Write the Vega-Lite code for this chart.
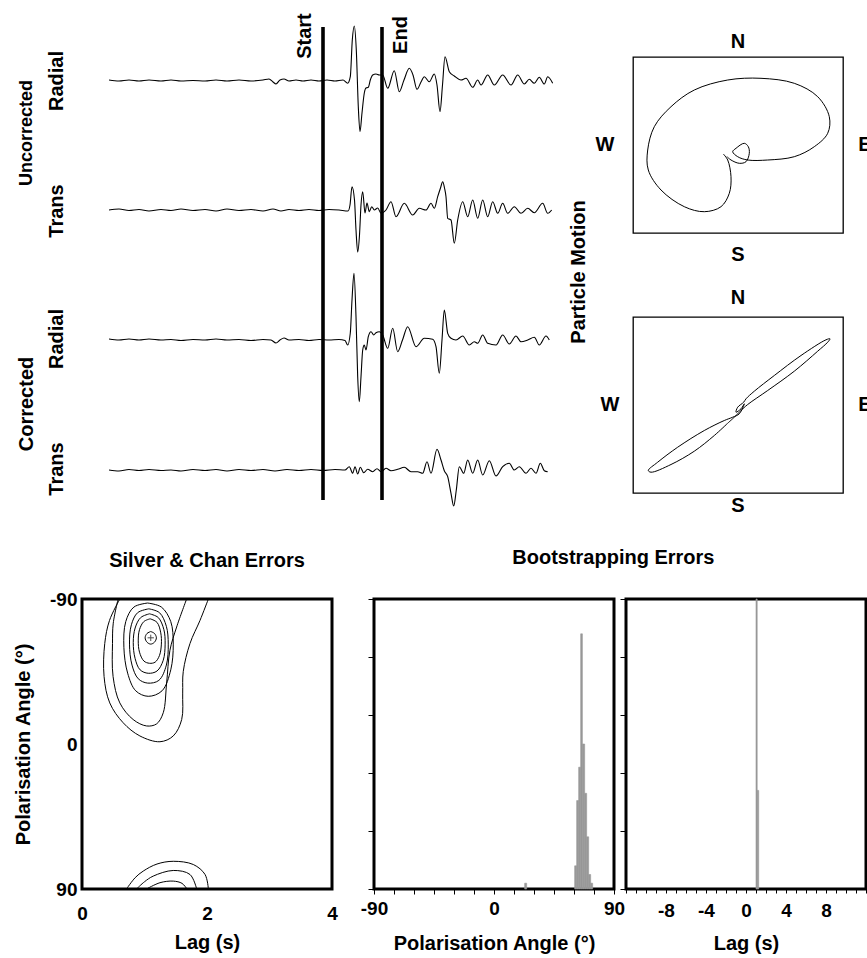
{
"$schema": "https://vega.github.io/schema/vega-lite/v6.json",
"padding": {"left": 12, "top": 13, "right": 0, "bottom": 0},
"bounds": "full",
"spacing": 31,
"datasets": {
"traces": [
{"trace":"UR","t":0,"y":420},{"trace":"UR","t":10,"y":419},{"trace":"UR","t":20,"y":420},{"trace":"UR","t":30,"y":419},{"trace":"UR","t":40,"y":420},{"trace":"UR","t":52,"y":419},{"trace":"UR","t":62,"y":420},{"trace":"UR","t":72,"y":419},{"trace":"UR","t":84,"y":419.5},{"trace":"UR","t":96,"y":419},{"trace":"UR","t":107,"y":420},{"trace":"UR","t":118,"y":419},{"trace":"UR","t":130,"y":420},{"trace":"UR","t":142,"y":419},{"trace":"UR","t":154,"y":420},{"trace":"UR","t":160,"y":421},{"trace":"UR","t":164,"y":418},{"trace":"UR","t":167,"y":416},{"trace":"UR","t":171,"y":420},{"trace":"UR","t":175,"y":421},{"trace":"UR","t":180,"y":419},{"trace":"UR","t":187,"y":420},{"trace":"UR","t":194,"y":419},{"trace":"UR","t":202,"y":420},{"trace":"UR","t":210,"y":419},{"trace":"UR","t":218,"y":420},{"trace":"UR","t":226,"y":419},{"trace":"UR","t":234,"y":420},{"trace":"UR","t":238.7,"y":416.7},{"trace":"UR","t":241.3,"y":423.3},{"trace":"UR","t":243.3,"y":460},{"trace":"UR","t":245.3,"y":474},{"trace":"UR","t":247.3,"y":450},{"trace":"UR","t":249.3,"y":393.3},{"trace":"UR","t":251,"y":368.3},{"trace":"UR","t":253,"y":387},{"trace":"UR","t":255.3,"y":407},{"trace":"UR","t":257,"y":412},{"trace":"UR","t":259.3,"y":412.7},{"trace":"UR","t":261.3,"y":420},{"trace":"UR","t":263.7,"y":425},{"trace":"UR","t":267,"y":426},{"trace":"UR","t":270.3,"y":425},{"trace":"UR","t":273.7,"y":425},{"trace":"UR","t":278.7,"y":411.7},{"trace":"UR","t":285.3,"y":429.3},{"trace":"UR","t":290.3,"y":408.3},{"trace":"UR","t":295,"y":420},{"trace":"UR","t":300.3,"y":431.7},{"trace":"UR","t":304,"y":425},{"trace":"UR","t":308,"y":410.7},{"trace":"UR","t":312,"y":418},{"trace":"UR","t":315.3,"y":423.3},{"trace":"UR","t":320.3,"y":418.3},{"trace":"UR","t":325.3,"y":426},{"trace":"UR","t":328,"y":415},{"trace":"UR","t":331,"y":388.3},{"trace":"UR","t":333.5,"y":415},{"trace":"UR","t":336,"y":443.3},{"trace":"UR","t":340.3,"y":428.3},{"trace":"UR","t":345.3,"y":424},{"trace":"UR","t":352,"y":420},{"trace":"UR","t":357,"y":421.7},{"trace":"UR","t":363.7,"y":412.7},{"trace":"UR","t":368.7,"y":420},{"trace":"UR","t":372,"y":415},{"trace":"UR","t":378.7,"y":425},{"trace":"UR","t":385.3,"y":415},{"trace":"UR","t":393.7,"y":425},{"trace":"UR","t":402,"y":415},{"trace":"UR","t":408.7,"y":425},{"trace":"UR","t":415.3,"y":416},{"trace":"UR","t":420.3,"y":420.7},{"trace":"UR","t":425.3,"y":416.7},{"trace":"UR","t":430.3,"y":422.7},{"trace":"UR","t":435.3,"y":416},{"trace":"UR","t":438.7,"y":423.3},{"trace":"UR","t":443.7,"y":416.7},
{"trace":"UT","t":0,"y":290},{"trace":"UT","t":10,"y":291},{"trace":"UT","t":20,"y":289.5},{"trace":"UT","t":30,"y":290.5},{"trace":"UT","t":40,"y":289},{"trace":"UT","t":52,"y":290.5},{"trace":"UT","t":62,"y":289.5},{"trace":"UT","t":72,"y":291},{"trace":"UT","t":84,"y":289.5},{"trace":"UT","t":96,"y":290.5},{"trace":"UT","t":107,"y":289},{"trace":"UT","t":118,"y":291},{"trace":"UT","t":130,"y":289.5},{"trace":"UT","t":142,"y":290.5},{"trace":"UT","t":154,"y":289},{"trace":"UT","t":164,"y":291},{"trace":"UT","t":172,"y":289},{"trace":"UT","t":180,"y":290.5},{"trace":"UT","t":190,"y":289.5},{"trace":"UT","t":200,"y":290.5},{"trace":"UT","t":210,"y":289.5},{"trace":"UT","t":220,"y":290.5},{"trace":"UT","t":230,"y":290},{"trace":"UT","t":239,"y":289},{"trace":"UT","t":241,"y":295},{"trace":"UT","t":243,"y":313.3},{"trace":"UT","t":245.5,"y":300},{"trace":"UT","t":247,"y":270},{"trace":"UT","t":248.7,"y":248},{"trace":"UT","t":250.5,"y":265},{"trace":"UT","t":252,"y":295},{"trace":"UT","t":253.7,"y":308.3},{"trace":"UT","t":256,"y":287},{"trace":"UT","t":258,"y":297},{"trace":"UT","t":260.3,"y":288.3},{"trace":"UT","t":262.7,"y":293.3},{"trace":"UT","t":265.3,"y":290},{"trace":"UT","t":268.7,"y":292},{"trace":"UT","t":272,"y":286.7},{"trace":"UT","t":277,"y":290},{"trace":"UT","t":282,"y":298.3},{"trace":"UT","t":287,"y":283.3},{"trace":"UT","t":295.3,"y":296.7},{"trace":"UT","t":303.7,"y":285},{"trace":"UT","t":310.3,"y":291.7},{"trace":"UT","t":317,"y":290},{"trace":"UT","t":322,"y":296.7},{"trace":"UT","t":325.3,"y":291.7},{"trace":"UT","t":328.7,"y":303.3},{"trace":"UT","t":331.5,"y":312},{"trace":"UT","t":333.7,"y":318.3},{"trace":"UT","t":335.5,"y":312},{"trace":"UT","t":337,"y":303.3},{"trace":"UT","t":338.7,"y":281.7},{"trace":"UT","t":342,"y":280},{"trace":"UT","t":345.3,"y":256.7},{"trace":"UT","t":348.7,"y":280},{"trace":"UT","t":353.7,"y":298.3},{"trace":"UT","t":358.7,"y":283.3},{"trace":"UT","t":363.7,"y":300},{"trace":"UT","t":368.7,"y":281.7},{"trace":"UT","t":373.7,"y":300},{"trace":"UT","t":378.7,"y":283.3},{"trace":"UT","t":383.7,"y":298.3},{"trace":"UT","t":388.7,"y":286.7},{"trace":"UT","t":393.7,"y":296.7},{"trace":"UT","t":398.7,"y":286.7},{"trace":"UT","t":405.3,"y":293.3},{"trace":"UT","t":412,"y":286.7},{"trace":"UT","t":418.7,"y":291.7},{"trace":"UT","t":425.3,"y":287.3},{"trace":"UT","t":433.7,"y":296.7},{"trace":"UT","t":438.7,"y":286.7},{"trace":"UT","t":442.7,"y":290},
{"trace":"CR","t":0,"y":161},{"trace":"CR","t":10,"y":160},{"trace":"CR","t":20,"y":161},{"trace":"CR","t":30,"y":160},{"trace":"CR","t":40,"y":161},{"trace":"CR","t":52,"y":160},{"trace":"CR","t":62,"y":160.5},{"trace":"CR","t":72,"y":159.5},{"trace":"CR","t":84,"y":160.5},{"trace":"CR","t":96,"y":160},{"trace":"CR","t":107,"y":161},{"trace":"CR","t":118,"y":160},{"trace":"CR","t":130,"y":160.5},{"trace":"CR","t":142,"y":159.5},{"trace":"CR","t":154,"y":160.5},{"trace":"CR","t":162,"y":160},{"trace":"CR","t":167,"y":157},{"trace":"CR","t":171,"y":160},{"trace":"CR","t":175,"y":162},{"trace":"CR","t":180,"y":160},{"trace":"CR","t":190,"y":160.5},{"trace":"CR","t":200,"y":159.5},{"trace":"CR","t":210,"y":160.5},{"trace":"CR","t":220,"y":160},{"trace":"CR","t":230,"y":160.5},{"trace":"CR","t":236,"y":159.5},{"trace":"CR","t":238.7,"y":155},{"trace":"CR","t":241.3,"y":167},{"trace":"CR","t":243,"y":200},{"trace":"CR","t":245,"y":226.7},{"trace":"CR","t":247,"y":183.3},{"trace":"CR","t":248.7,"y":123.3},{"trace":"CR","t":250.3,"y":98.3},{"trace":"CR","t":252,"y":123.3},{"trace":"CR","t":253.7,"y":150},{"trace":"CR","t":255.3,"y":155},{"trace":"CR","t":257,"y":150},{"trace":"CR","t":259.3,"y":163.3},{"trace":"CR","t":262,"y":168.3},{"trace":"CR","t":264.7,"y":165},{"trace":"CR","t":267,"y":167.3},{"trace":"CR","t":270.3,"y":168.3},{"trace":"CR","t":273.7,"y":165},{"trace":"CR","t":278.7,"y":151.7},{"trace":"CR","t":283.7,"y":171.7},{"trace":"CR","t":288.7,"y":148.3},{"trace":"CR","t":293.5,"y":160},{"trace":"CR","t":298.7,"y":173.3},{"trace":"CR","t":307,"y":153.3},{"trace":"CR","t":315.3,"y":161.7},{"trace":"CR","t":323.7,"y":160.7},{"trace":"CR","t":327,"y":153.3},{"trace":"CR","t":330.3,"y":126.7},{"trace":"CR","t":333,"y":160},{"trace":"CR","t":335.3,"y":190},{"trace":"CR","t":338.7,"y":166.7},{"trace":"CR","t":342,"y":161.7},{"trace":"CR","t":347,"y":160},{"trace":"CR","t":353.7,"y":164},{"trace":"CR","t":360.3,"y":155},{"trace":"CR","t":365.3,"y":158.3},{"trace":"CR","t":368.7,"y":156.7},{"trace":"CR","t":373.7,"y":165},{"trace":"CR","t":378.7,"y":156.7},{"trace":"CR","t":387,"y":155},{"trace":"CR","t":393.7,"y":165},{"trace":"CR","t":400.3,"y":156},{"trace":"CR","t":407,"y":164},{"trace":"CR","t":412,"y":158.3},{"trace":"CR","t":418.7,"y":160},{"trace":"CR","t":425.3,"y":162.7},{"trace":"CR","t":430.3,"y":155},{"trace":"CR","t":437,"y":164},{"trace":"CR","t":440.3,"y":160},
{"trace":"CT","t":0,"y":30},{"trace":"CT","t":10,"y":29},{"trace":"CT","t":20,"y":30.5},{"trace":"CT","t":30,"y":29.5},{"trace":"CT","t":40,"y":30.5},{"trace":"CT","t":52,"y":29.5},{"trace":"CT","t":62,"y":30},{"trace":"CT","t":72,"y":29},{"trace":"CT","t":84,"y":30.5},{"trace":"CT","t":96,"y":29.5},{"trace":"CT","t":107,"y":30.5},{"trace":"CT","t":118,"y":29},{"trace":"CT","t":130,"y":30.5},{"trace":"CT","t":142,"y":29.5},{"trace":"CT","t":154,"y":30.5},{"trace":"CT","t":166,"y":29},{"trace":"CT","t":178,"y":30.5},{"trace":"CT","t":190,"y":29.5},{"trace":"CT","t":202,"y":30.5},{"trace":"CT","t":214,"y":29.5},{"trace":"CT","t":226,"y":30.5},{"trace":"CT","t":236,"y":30},{"trace":"CT","t":240.3,"y":33.3},{"trace":"CT","t":243.7,"y":26.7},{"trace":"CT","t":246,"y":33.3},{"trace":"CT","t":248.7,"y":26},{"trace":"CT","t":251.3,"y":32.7},{"trace":"CT","t":254.7,"y":27.3},{"trace":"CT","t":258.7,"y":30.7},{"trace":"CT","t":263.7,"y":28.3},{"trace":"CT","t":268,"y":31.3},{"trace":"CT","t":272,"y":28.3},{"trace":"CT","t":277,"y":31.7},{"trace":"CT","t":282,"y":29.3},{"trace":"CT","t":288.7,"y":30.7},{"trace":"CT","t":295.3,"y":32.7},{"trace":"CT","t":302,"y":28.3},{"trace":"CT","t":308.7,"y":28.3},{"trace":"CT","t":313.7,"y":26.7},{"trace":"CT","t":318,"y":38.3},{"trace":"CT","t":322,"y":26.7},{"trace":"CT","t":328,"y":50.7},{"trace":"CT","t":332,"y":40},{"trace":"CT","t":335.3,"y":29.3},{"trace":"CT","t":338.7,"y":23.3},{"trace":"CT","t":342,"y":6.7},{"trace":"CT","t":344.7,"y":-6},{"trace":"CT","t":347.3,"y":10},{"trace":"CT","t":350.3,"y":33.3},{"trace":"CT","t":354.7,"y":26.7},{"trace":"CT","t":358.7,"y":40},{"trace":"CT","t":363.7,"y":26.7},{"trace":"CT","t":368.7,"y":40},{"trace":"CT","t":373.7,"y":25},{"trace":"CT","t":380.3,"y":39.3},{"trace":"CT","t":387,"y":24},{"trace":"CT","t":393.7,"y":33.3},{"trace":"CT","t":400.3,"y":36.7},{"trace":"CT","t":405.3,"y":30},{"trace":"CT","t":410.3,"y":33.3},{"trace":"CT","t":417,"y":26.7},{"trace":"CT","t":422,"y":31.7},{"trace":"CT","t":427,"y":26.7},{"trace":"CT","t":431.3,"y":36.7},{"trace":"CT","t":435.3,"y":29.3},{"trace":"CT","t":438.7,"y":28.3}
],
"window": [{"label":"Start","t":214},{"label":"End","t":273}],
"pm1": [
{"i":1,"e":-14.7,"n":-9},{"i":2,"e":-10.3,"n":-15},{"i":3,"e":-7,"n":-31.7},{"i":4,"e":-8.7,"n":-48.3},{"i":5,"e":-17,"n":-61.7},{"i":6,"e":-33.7,"n":-66.7},{"i":7,"e":-53.7,"n":-61.7},{"i":8,"e":-77,"n":-45},{"i":9,"e":-89.7,"n":-25},{"i":10,"e":-90.3,"n":-5},{"i":11,"e":-83.7,"n":18.3},{"i":12,"e":-67,"n":38.3},{"i":13,"e":-43.7,"n":55},{"i":14,"e":-10.3,"n":65},{"i":15,"e":23,"n":66.7},{"i":16,"e":56.3,"n":61.7},{"i":17,"e":79.7,"n":48.3},{"i":18,"e":91.3,"n":28.3},{"i":19,"e":89.7,"n":11.7},{"i":20,"e":76.3,"n":-1.7},{"i":21,"e":56.3,"n":-11.7},{"i":22,"e":29.7,"n":-15},{"i":23,"e":9.7,"n":-15},{"i":24,"e":-0.3,"n":-11.7},{"i":25,"e":-5.3,"n":-6.7},{"i":26,"e":-2,"n":-3.3},{"i":27,"e":6.3,"n":1.7},{"i":28,"e":10.3,"n":-1.7},{"i":29,"e":11.3,"n":-8.3},{"i":30,"e":8,"n":-16.7},{"i":31,"e":1.3,"n":-18.3},{"i":32,"e":-7,"n":-15},{"i":33,"e":-11,"n":-11.7}
],
"pm2": [
{"i":1,"e":-10.3,"n":-18.2},{"i":2,"e":-3.7,"n":-12.2},{"i":3,"e":3,"n":-5.5},{"i":4,"e":9.7,"n":0.5},{"i":5,"e":29.7,"n":14.5},{"i":6,"e":56.3,"n":33.8},{"i":7,"e":79.7,"n":53.8},{"i":8,"e":89.7,"n":62.8},{"i":9,"e":92,"n":66.2},{"i":10,"e":88,"n":65.2},{"i":11,"e":63,"n":49.5},{"i":12,"e":36.3,"n":29.5},{"i":13,"e":16.3,"n":13.8},{"i":14,"e":8,"n":6.2},{"i":15,"e":5.7,"n":2.8},{"i":16,"e":-0.3,"n":-2.2},{"i":17,"e":-2,"n":-7.2},{"i":18,"e":3,"n":-3.8},{"i":19,"e":6.3,"n":1.2},{"i":20,"e":1.3,"n":-8.8},{"i":21,"e":-5.3,"n":-12.2},{"i":22,"e":-13.7,"n":-15.5},{"i":23,"e":-33.7,"n":-25.5},{"i":24,"e":-60.3,"n":-42.2},{"i":25,"e":-80.3,"n":-57.2},{"i":26,"e":-89.7,"n":-65.5},{"i":27,"e":-87,"n":-67.2},{"i":28,"e":-67,"n":-59.5},{"i":29,"e":-43.7,"n":-46.2},{"i":30,"e":-23.7,"n":-30.5},{"i":31,"e":-10.3,"n":-18.2}
],
"contours": [
{"c":"r1","i":0,"lag":1.10,"ang":-69.8},{"c":"r1","i":1,"lag":1.16,"ang":-68.6},{"c":"r1","i":2,"lag":1.19,"ang":-65.9},{"c":"r1","i":3,"lag":1.16,"ang":-63.2},{"c":"r1","i":4,"lag":1.10,"ang":-62.0},{"c":"r1","i":5,"lag":1.04,"ang":-63.2},{"c":"r1","i":6,"lag":1.01,"ang":-65.9},{"c":"r1","i":7,"lag":1.04,"ang":-68.6},{"c":"r1","i":8,"lag":1.10,"ang":-69.8},
{"c":"r2","i":0,"lag":1.09,"ang":-77.7},{"c":"r2","i":1,"lag":1.20,"ang":-75.5},{"c":"r2","i":2,"lag":1.26,"ang":-69},{"c":"r2","i":3,"lag":1.27,"ang":-62},{"c":"r2","i":4,"lag":1.24,"ang":-55},{"c":"r2","i":5,"lag":1.17,"ang":-50.8},{"c":"r2","i":6,"lag":1.08,"ang":-50.1},{"c":"r2","i":7,"lag":0.99,"ang":-51.5},{"c":"r2","i":8,"lag":0.92,"ang":-57},{"c":"r2","i":9,"lag":0.90,"ang":-64},{"c":"r2","i":10,"lag":0.92,"ang":-71},{"c":"r2","i":11,"lag":0.99,"ang":-76},{"c":"r2","i":12,"lag":1.09,"ang":-77.7},
{"c":"r3","i":0,"lag":1.08,"ang":-80.8},{"c":"r3","i":1,"lag":1.22,"ang":-78.5},{"c":"r3","i":2,"lag":1.31,"ang":-71},{"c":"r3","i":3,"lag":1.33,"ang":-62},{"c":"r3","i":4,"lag":1.30,"ang":-52},{"c":"r3","i":5,"lag":1.20,"ang":-45.3},{"c":"r3","i":6,"lag":1.06,"ang":-43.9},{"c":"r3","i":7,"lag":0.93,"ang":-46},{"c":"r3","i":8,"lag":0.85,"ang":-53},{"c":"r3","i":9,"lag":0.82,"ang":-63},{"c":"r3","i":10,"lag":0.85,"ang":-72},{"c":"r3","i":11,"lag":0.94,"ang":-78.5},{"c":"r3","i":12,"lag":1.08,"ang":-80.8},
{"c":"r4","i":0,"lag":1.07,"ang":-83.9},{"c":"r4","i":1,"lag":1.24,"ang":-81.5},{"c":"r4","i":2,"lag":1.35,"ang":-73},{"c":"r4","i":3,"lag":1.38,"ang":-62},{"c":"r4","i":4,"lag":1.35,"ang":-49},{"c":"r4","i":5,"lag":1.23,"ang":-39.5},{"c":"r4","i":6,"lag":1.05,"ang":-37.8},{"c":"r4","i":7,"lag":0.90,"ang":-40.5},{"c":"r4","i":8,"lag":0.80,"ang":-49},{"c":"r4","i":9,"lag":0.76,"ang":-62},{"c":"r4","i":10,"lag":0.79,"ang":-74},{"c":"r4","i":11,"lag":0.89,"ang":-81.5},{"c":"r4","i":12,"lag":1.07,"ang":-83.9},
{"c":"r5","i":0,"lag":1.05,"ang":-87.5},{"c":"r5","i":1,"lag":1.27,"ang":-85},{"c":"r5","i":2,"lag":1.42,"ang":-76},{"c":"r5","i":3,"lag":1.46,"ang":-62},{"c":"r5","i":4,"lag":1.42,"ang":-46},{"c":"r5","i":5,"lag":1.28,"ang":-33},{"c":"r5","i":6,"lag":1.06,"ang":-29.6},{"c":"r5","i":7,"lag":0.86,"ang":-33},{"c":"r5","i":8,"lag":0.73,"ang":-44},{"c":"r5","i":9,"lag":0.67,"ang":-60},{"c":"r5","i":10,"lag":0.70,"ang":-76},{"c":"r5","i":11,"lag":0.83,"ang":-85},{"c":"r5","i":12,"lag":1.05,"ang":-87.5},
{"c":"r6","i":0,"lag":0.578,"ang":-90},{"c":"r6","i":1,"lag":0.50,"ang":-75},{"c":"r6","i":2,"lag":0.488,"ang":-62.4},{"c":"r6","i":3,"lag":0.497,"ang":-41.9},{"c":"r6","i":4,"lag":0.605,"ang":-25.5},{"c":"r6","i":5,"lag":0.818,"ang":-15.2},{"c":"r6","i":6,"lag":1.033,"ang":-11.2},{"c":"r6","i":7,"lag":1.194,"ang":-12.5},{"c":"r6","i":8,"lag":1.30,"ang":-19.4},{"c":"r6","i":9,"lag":1.354,"ang":-37.8},{"c":"r6","i":10,"lag":1.407,"ang":-58.2},{"c":"r6","i":11,"lag":1.514,"ang":-72.6},{"c":"r6","i":12,"lag":1.674,"ang":-90},
{"c":"r7","i":0,"lag":0.605,"ang":-90},{"c":"r7","i":1,"lag":0.44,"ang":-76.7},{"c":"r7","i":2,"lag":0.364,"ang":-62.4},{"c":"r7","i":3,"lag":0.353,"ang":-41.9},{"c":"r7","i":4,"lag":0.444,"ang":-25.5},{"c":"r7","i":5,"lag":0.658,"ang":-13.2},{"c":"r7","i":6,"lag":0.926,"ang":-5.0},{"c":"r7","i":7,"lag":1.247,"ang":-1.4},{"c":"r7","i":8,"lag":1.46,"ang":-5.0},{"c":"r7","i":9,"lag":1.595,"ang":-15.2},{"c":"r7","i":10,"lag":1.611,"ang":-31.6},{"c":"r7","i":11,"lag":1.62,"ang":-45},{"c":"r7","i":12,"lag":1.728,"ang":-62.4},{"c":"r7","i":13,"lag":1.888,"ang":-76.7},{"c":"r7","i":14,"lag":2.022,"ang":-90},
{"c":"b1","i":0,"lag":0.712,"ang":90},{"c":"b1","i":1,"lag":0.85,"ang":83},{"c":"b1","i":2,"lag":0.979,"ang":78.9},{"c":"b1","i":3,"lag":1.2,"ang":74.5},{"c":"b1","i":4,"lag":1.46,"ang":72.8},{"c":"b1","i":5,"lag":1.781,"ang":74.8},{"c":"b1","i":6,"lag":1.969,"ang":81},{"c":"b1","i":7,"lag":2.022,"ang":90},
{"c":"b2","i":0,"lag":0.873,"ang":90},{"c":"b2","i":1,"lag":1.0,"ang":85.5},{"c":"b2","i":2,"lag":1.139,"ang":82.0},{"c":"b2","i":3,"lag":1.46,"ang":78.5},{"c":"b2","i":4,"lag":1.728,"ang":81},{"c":"b2","i":5,"lag":1.835,"ang":90},
{"c":"b3","i":0,"lag":1.033,"ang":90},{"c":"b3","i":1,"lag":1.247,"ang":86.1},{"c":"b3","i":2,"lag":1.46,"ang":85.1},{"c":"b3","i":3,"lag":1.6,"ang":86.5},{"c":"b3","i":4,"lag":1.68,"ang":90}
],
"best": [{"lag":1.1,"ang":-65.9}],
"hpol": [
{"a0":23,"a1":24.5,"count":2},
{"a0":60.5,"a1":62,"count":8},{"a0":62,"a1":63.5,"count":30.5},{"a0":63.5,"a1":65,"count":42},{"a0":65,"a1":66.3,"count":88},{"a0":66.3,"a1":68,"count":50},{"a0":68,"a1":69.5,"count":33},{"a0":69.5,"a1":71,"count":18},{"a0":71,"a1":72.5,"count":5},{"a0":72.5,"a1":74,"count":2}
],
"hlag": [{"a0":1.0,"a1":1.12,"count":100},{"a0":1.12,"a1":1.27,"count":34}]
},
"vconcat": [
{
"hconcat": [
{
"width": 470, "height": 443,
"view": {"stroke": null},
"layer": [
{"data": {"name": "traces"},
 "mark": {"type": "line", "color": "black", "strokeWidth": 1.1, "interpolate": "monotone"},
 "encoding": {
  "x": {"field": "t", "type": "quantitative", "scale": {"domain": [-27, 443], "nice": false, "zero": false}, "axis": null},
  "y": {"field": "y", "type": "quantitative", "scale": {"domain": [0, 443], "nice": false, "zero": false}, "axis": null},
  "detail": {"field": "trace"}}},
{"data": {"name": "window"},
 "mark": {"type": "rule", "color": "black", "strokeWidth": 3.6},
 "encoding": {"x": {"field": "t", "type": "quantitative"}, "y": {"datum": 0}, "y2": {"datum": 473}}},
{"data": {"values": [{}]}, "mark": {"type": "text", "text": "Start", "angle": 270, "align": "center", "baseline": "middle"}, "encoding": {"x": {"datum": 196}, "y": {"datum": 464}}},
{"data": {"values": [{}]}, "mark": {"type": "text", "text": "End", "angle": 270, "align": "center", "baseline": "middle"}, "encoding": {"x": {"datum": 292}, "y": {"datum": 465}}},
{"data": {"values": [{}]}, "mark": {"type": "text", "text": "Radial", "angle": 270, "align": "center", "baseline": "middle"}, "encoding": {"x": {"datum": -52}, "y": {"datum": 419}}},
{"data": {"values": [{}]}, "mark": {"type": "text", "text": "Trans", "angle": 270, "align": "center", "baseline": "middle"}, "encoding": {"x": {"datum": -52}, "y": {"datum": 289}}},
{"data": {"values": [{}]}, "mark": {"type": "text", "text": "Uncorrected", "angle": 270, "align": "center", "baseline": "middle", "fontSize": 18}, "encoding": {"x": {"datum": -82}, "y": {"datum": 367}}},
{"data": {"values": [{}]}, "mark": {"type": "text", "text": "Radial", "angle": 270, "align": "center", "baseline": "middle"}, "encoding": {"x": {"datum": -52}, "y": {"datum": 161}}},
{"data": {"values": [{}]}, "mark": {"type": "text", "text": "Trans", "angle": 270, "align": "center", "baseline": "middle"}, "encoding": {"x": {"datum": -52}, "y": {"datum": 31}}},
{"data": {"values": [{}]}, "mark": {"type": "text", "text": "Corrected", "angle": 270, "align": "center", "baseline": "middle"}, "encoding": {"x": {"datum": -82}, "y": {"datum": 96}}}
]
},
{
"vconcat": [
{
"width": 210, "height": 176,
"view": {"stroke": "black", "strokeWidth": 1.3},
"layer": [
{"data": {"name": "pm1"},
 "mark": {"type": "line", "color": "black", "strokeWidth": 1, "interpolate": "catmull-rom"},
 "encoding": {
  "x": {"field": "e", "type": "quantitative", "scale": {"domain": [-105, 105], "nice": false, "zero": false}, "axis": null},
  "y": {"field": "n", "type": "quantitative", "scale": {"domain": [-88, 88], "nice": false, "zero": false}, "axis": null},
  "order": {"field": "i", "type": "quantitative"}}},
{"data": {"values": [{}]}, "mark": {"type": "text", "text": "N", "align": "center", "baseline": "middle"}, "encoding": {"x": {"datum": 0}, "y": {"datum": 103}}},
{"data": {"values": [{}]}, "mark": {"type": "text", "text": "S", "align": "center", "baseline": "middle"}, "encoding": {"x": {"datum": 0}, "y": {"datum": -110}}},
{"data": {"values": [{}]}, "mark": {"type": "text", "text": "W", "align": "center", "baseline": "middle"}, "encoding": {"x": {"datum": -133}, "y": {"datum": 0}}},
{"data": {"values": [{}]}, "mark": {"type": "text", "text": "E", "align": "center", "baseline": "middle"}, "encoding": {"x": {"datum": 127}, "y": {"datum": 0}}},
{"data": {"values": [{}]}, "mark": {"type": "text", "text": "Particle Motion", "angle": 270, "align": "center", "baseline": "middle"}, "encoding": {"x": {"datum": -159}, "y": {"datum": -127}}}
]
},
{
"width": 210, "height": 176,
"view": {"stroke": "black", "strokeWidth": 1.3},
"layer": [
{"data": {"name": "pm2"},
 "mark": {"type": "line", "color": "black", "strokeWidth": 1, "interpolate": "catmull-rom"},
 "encoding": {
  "x": {"field": "e", "type": "quantitative", "scale": {"domain": [-105, 105], "nice": false, "zero": false}, "axis": null},
  "y": {"field": "n", "type": "quantitative", "scale": {"domain": [-88, 88], "nice": false, "zero": false}, "axis": null},
  "order": {"field": "i", "type": "quantitative"}}},
{"data": {"values": [{}]}, "mark": {"type": "text", "text": "N", "align": "center", "baseline": "middle"}, "encoding": {"x": {"datum": 0}, "y": {"datum": 107.5}}},
{"data": {"values": [{}]}, "mark": {"type": "text", "text": "S", "align": "center", "baseline": "middle"}, "encoding": {"x": {"datum": 0}, "y": {"datum": -101}}},
{"data": {"values": [{}]}, "mark": {"type": "text", "text": "W", "align": "center", "baseline": "middle"}, "encoding": {"x": {"datum": -128}, "y": {"datum": 0}}},
{"data": {"values": [{}]}, "mark": {"type": "text", "text": "E", "align": "center", "baseline": "middle"}, "encoding": {"x": {"datum": 127}, "y": {"datum": 0}}}
]
}
],
"spacing": 84, "bounds": "flush"
}
],
"spacing": 81, "bounds": "flush"
},
{
"hconcat": [
{
"width": 250, "height": 290,
"title": {"text": "Silver & Chan Errors", "anchor": "middle", "offset": 19},
"layer": [
{"data": {"name": "contours"},
 "mark": {"type": "line", "color": "black", "strokeWidth": 1, "interpolate": "catmull-rom"},
 "encoding": {
  "x": {"field": "lag", "type": "quantitative", "scale": {"domain": [0, 4], "nice": false, "zero": false},
        "axis": {"values": [0, 2, 4], "ticks": false, "labelPadding": 15, "labelFlush": false, "labelExpr": "'' + datum.value", "title": "Lag (s)", "titlePadding": 9}},
  "y": {"field": "ang", "type": "quantitative", "scale": {"domain": [-90, 90], "reverse": true, "nice": false, "zero": false},
        "axis": {"values": [-90, 0, 90], "ticks": false, "labelPadding": 5, "labelExpr": "'' + datum.value", "title": "Polarisation Angle (°)", "titlePadding": 16}},
  "detail": {"field": "c"},
  "order": {"field": "i", "type": "quantitative"}}},
{"data": {"name": "best"},
 "mark": {"type": "point", "shape": "M-1,0L1,0M0,-1L0,1", "size": 40, "color": "black", "strokeWidth": 1, "filled": false},
 "encoding": {"x": {"field": "lag", "type": "quantitative"}, "y": {"field": "ang", "type": "quantitative"}}}
]
},
{
"hconcat": [
{
"width": 240, "height": 290,
"data": {"name": "hpol"},
"mark": {"type": "rect", "color": "#999999", "stroke": "#999999", "strokeWidth": 0.6},
"encoding": {
 "x": {"field": "a0", "type": "quantitative", "scale": {"domain": [-90, 90], "nice": false, "zero": false},
       "axis": {"values": [-90, -75, -60, -45, -30, -15, 0, 15, 30, 45, 60, 75, 90], "tickSize": 5, "labelPadding": 5, "labelFlush": false, "labelOverlap": false, "labelExpr": "datum.value % 90 == 0 ? '' + datum.value : ''", "title": "Polarisation Angle (°)", "titlePadding": 15}},
 "x2": {"field": "a1"},
 "y": {"field": "count", "type": "quantitative", "scale": {"domain": [0, 100], "nice": false},
       "axis": {"values": [0, 20, 40, 60, 80, 100], "labels": false, "tickSize": 6, "title": null}},
 "y2": {"datum": 0}}
},
{
"width": 240, "height": 290,
"data": {"name": "hlag"},
"mark": {"type": "rect", "color": "#999999", "stroke": "#999999", "strokeWidth": 0.6},
"encoding": {
 "x": {"field": "a0", "type": "quantitative", "scale": {"domain": [-12, 12], "nice": false, "zero": false},
       "axis": {"values": [-12, -11, -10, -9, -8, -7, -6, -5, -4, -3, -2, -1, 0, 1, 2, 3, 4, 5, 6, 7, 8, 9, 10, 11, 12], "tickSize": 4, "labelPadding": 8, "labelFlush": false, "labelOverlap": false, "labelExpr": "(datum.value % 4 == 0 && abs(datum.value) < 12) ? '' + datum.value : ''", "title": "Lag (s)", "titlePadding": 13}},
 "x2": {"field": "a1"},
 "y": {"field": "count", "type": "quantitative", "scale": {"domain": [0, 100], "nice": false},
       "axis": {"values": [0, 20, 40, 60, 80, 100], "labels": false, "tickSize": 6, "title": null}},
 "y2": {"datum": 0}}
}
],
"spacing": 12, "bounds": "flush",
"title": {"text": "Bootstrapping Errors", "anchor": "middle", "offset": 29}
}
],
"spacing": 42, "bounds": "flush"
}
],
"config": {
 "font": "Liberation Sans",
 "view": {"stroke": "black", "strokeWidth": 3},
 "axis": {"labelFont": "Liberation Sans", "labelFontSize": 19, "labelFontWeight": "bold", "labelColor": "black", "titleFont": "Liberation Sans", "titleFontSize": 20, "titleFontWeight": "bold", "titleColor": "black", "grid": false, "domain": false, "tickColor": "black", "tickWidth": 1},
 "title": {"font": "Liberation Sans", "fontSize": 20, "fontWeight": "bold", "color": "black"},
 "text": {"font": "Liberation Sans", "fontWeight": "bold", "fontSize": 20, "color": "black"}
}
}
